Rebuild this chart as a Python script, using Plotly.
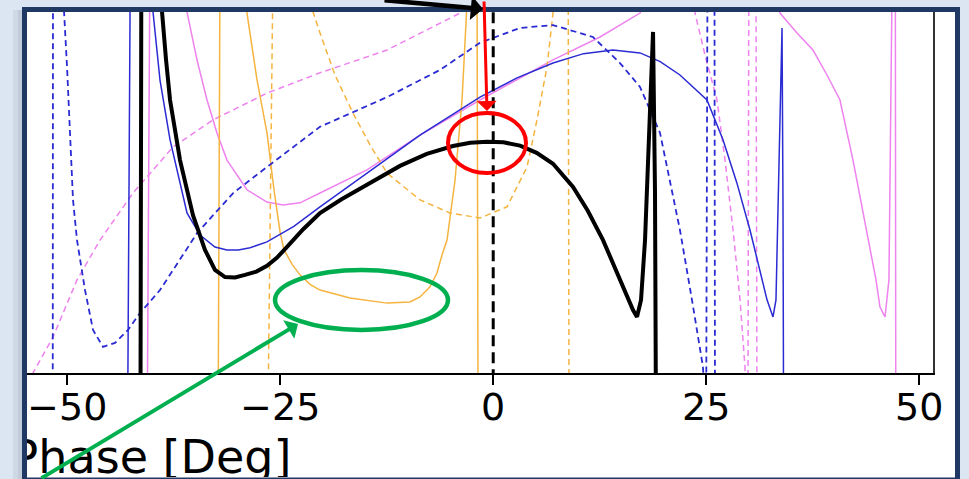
import plotly.graph_objects as go

W, H = 969, 479

# ---------------- data (x: phase in degrees, y: arbitrary units) ----------------
black_x = [-41.4, -41.3, -39.1, -38.87, -38.40, -37.93, -36.76, -35.24, -33.83, -32.66, -31.48,
           -30.3, -29.13, -27.8, -26.55, -25.4, -24.20, -22.3, -20.33, -17.8, -15.28, -10.94,
           -7.8, -4.72, -2.7, -0.73, 1.2, 3.15, 5.1, 7.02, 9.37, 11.1, 12.89, 14.88, 16.41,
           16.88, 17.35, 17.82, 18.29, 18.76, 18.99, 19.08, 19.10]
black_y = [-1, 11, 11, 9.97, 8.65, 7.54, 5.88, 4.36, 3.40, 2.85, 2.65,
           2.64, 2.71, 2.80, 2.96, 3.18, 3.48, 3.97, 4.42, 4.80, 5.14, 5.72,
           6.05, 6.27, 6.36, 6.39, 6.37, 6.28, 6.08, 5.78, 5.14, 4.48, 3.67, 2.57, 1.74,
           1.55, 2.02, 3.67, 6.44, 9.42, 5.0, 0, -1]

vline_x = [0, 0]
vline_y = [-0.2, 11]

blue_x = [-42.9, -42.6, -40.17, -39.93, -39.11, -37.93, -35.94, -34.41, -32.66, -31.25, -29.9,
          -28.54, -26.55, -23.4, -20.33, -14.81, -8.59, -1.55, 2.8, 7.02, 10.6, 14.06, 17.23,
          19.6, 21.92, 25.09, 26.97, 28.6, 30.14, 32.14, 32.84, 33.19, 33.54, 33.90, 34.01,
          34.07, 34.08]
blue_y = [-1, 11, 11, 9.97, 8.09, 6.44, 4.42, 3.81, 3.48, 3.40, 3.40,
          3.46, 3.62, 4.05, 4.59, 5.52, 6.57, 7.62, 8.15, 8.56, 8.82, 8.92, 8.84,
          8.60, 8.23, 7.54, 6.44, 5.25, 3.95, 2.02, 1.55, 2.02, 6.16, 9.53, 4.78,
          0, -1]

blue_dash_x = [-51.7, -51.67, -50.49, -50.37, -50.02, -49.67, -49.32, -48.85, -47.91, -46.97, -45.80,
               -44.39, -42.86, -41.45, -39.11, -34.74, -30.52, -26.55, -20.33, -12.46, -6.25, -1.55,
               3.15, 7.02, 11.71, 14.88, 17.23, 19.58, 21.92, 23.33, 24.62, 24.9, 25.0, 25.15,
               25.97, 26.03]
blue_dash_y = [-1, 11, 11, 9.97, 8.45, 6.71, 4.78, 3.67, 2.29, 1.19, 0.72,
               0.83, 1.19, 1.66, 2.29, 3.87, 4.97, 5.69, 6.80, 7.62, 8.37, 9.12,
               9.53, 9.61, 9.28, 8.56, 7.90, 6.63, 3.95, 2.02, 0.17, -1, -1, 11,
               11, -1]

violet_x = [-40.6, -40.3, -36.06, -35.94, -34.77, -33.59, -32.42, -31.25, -28.90, -26.55, -24.67,
            -22.68, -20.33, -14.81, -8.59, -1.55, 7.02, 12.54, 17.23, 19.0, 33.08, 33.66, 35.66,
            37.53, 39.18, 40.70, 42.23, 43.87, 44.93, 45.40, 45.99, 46.45, 46.83, 47.2, 47.25]
violet_y = [-1, 11, 11, 9.97, 8.65, 7.54, 6.63, 5.88, 5.06, 4.72, 4.64,
            4.70, 4.97, 5.61, 6.57, 7.54, 8.65, 9.28, 9.94, 11, 11, 9.94, 9.39,
            8.92, 8.23, 7.54, 5.88, 3.87, 2.57, 1.82, 1.55, 2.57, 11, 11, -1]

violet_dash_x = [-56.4, -54.03, -51.67, -48.85, -46.15, -42.28, -37.59, -32.89, -26.55, -20.33,
                 -12.46, -3.90, -2.5, 23.09, 23.69, 24.86, 26.27, 27.21, 28.15, 28.97, 29.55,
                 29.62, 29.9, 30.0, 30.84, 30.96]
violet_dash_y = [-1, 0, 0.99, 2.57, 3.67, 4.97, 6.24, 6.99, 7.73, 8.29,
                 8.92, 9.94, 11, 11, 9.94, 8.78, 7.54, 5.88, 3.95, 2.02, 0.17,
                 -1, -1, 11, 11, -1]

orange_x = [-32.28, -32.07, -29.01, -28.90, -27.72, -26.55, -25.73, -25.02, -24.55, -23.6, -22.68,
            -21.5, -20.33, -16.81, -12.46, -9.77, -8.59, -7.42, -6.60, -6.01, -5.42, -4.48,
            -3.66, -3.08, -2.9, -1.9, -1.78]
orange_y = [-1, 11, 11, 9.94, 8.09, 6.63, 5.06, 3.90, 3.40, 3.0, 2.71,
            2.45, 2.29, 2.07, 1.93, 1.96, 2.10, 2.38, 2.76, 3.26, 3.67, 5.33,
            7.54, 9.94, 11, 11, -1]

orange_dash_x = [-26.43, -25.85, -21.26, -21.15, -20.33, -18.57, -16.46, -14.46, -12.46, -8.59,
                 -5.07, -1.55, 1.62, 3.97, 5.14, 6.31, 7.02, 7.3, 8.8, 8.9]
orange_dash_y = [-1, 11, 11, 9.97, 9.39, 8.23, 7.18, 6.30, 5.52, 4.78,
                 4.42, 4.28, 4.59, 5.69, 6.99, 8.45, 9.94, 11, 11, -1]

tick_vals = [-50, -25, 0, 25, 50]
tick_text = ["\u221250", "\u221225", "0", "25", "50"]
x_label = "Phase [Deg]"

# ---------------- styling ----------------
NAVY = "#1f3864"
BG = "#dce6f2"
BLUE = "#2b2bd3"
VIOLET = "#ee82ee"
ORANGE = "#f5b43f"


def px(x):
    return x / W


def py(y):
    return 1 - y / H


fig = go.Figure()


def add(x, y, color, width, dash="solid"):
    fig.add_trace(go.Scatter(x=x, y=y, mode="lines",
                             line=dict(color=color, width=width, dash=dash),
                             hoverinfo="skip", showlegend=False))


add(violet_dash_x, violet_dash_y, VIOLET, 1.5, "6px,4px")
add(violet_x, violet_y, VIOLET, 1.5)
add(orange_dash_x, orange_dash_y, ORANGE, 1.5, "6px,4px")
add(orange_x, orange_y, ORANGE, 1.5)
add(blue_dash_x, blue_dash_y, BLUE, 1.8, "6px,4px")
add(blue_x, blue_y, BLUE, 1.5)
add(black_x, black_y, "black", 4)
add(vline_x, vline_y, "black", 3, "11px,6px")

# axis label as clipped text on an overlay subplot (pixel coordinates)
fig.add_trace(go.Scatter(x=[151], y=[461], mode="text", text=[x_label],
                         textfont=dict(family="DejaVu Sans", size=46, color="black"),
                         textposition="middle center", xaxis="x2", yaxis="y2",
                         hoverinfo="skip", showlegend=False, cliponaxis=True))

x_dom = [px(27), px(933)]
y_dom = [py(373), py(12)]

fig.update_layout(
    width=W, height=H, margin=dict(l=0, r=0, t=0, b=0, pad=0), autosize=False,
    paper_bgcolor=BG, plot_bgcolor="rgba(0,0,0,0)",
    xaxis=dict(domain=x_dom, range=[-54.72, 51.62], showgrid=False, zeroline=False,
               automargin=False,
               showline=True, linecolor="black", linewidth=1.5,
               ticks="outside", ticklen=10, tickwidth=1.5, tickcolor="black",
               tickvals=tick_vals, ticktext=tick_text, ticklabelstandoff=-10,
               tickfont=dict(family="DejaVu Sans", size=38, color="black")),
    yaxis=dict(domain=y_dom, range=[0, 9.97], showgrid=False, zeroline=False,
               automargin=False,
               side="right", showline=True, linecolor="#333333", linewidth=1.5,
               ticks="", showticklabels=False),
    xaxis2=dict(domain=[px(27), px(955)], range=[27, 955], visible=False, anchor="y2",
                automargin=False),
    yaxis2=dict(domain=[py(477), py(12)], range=[477, 12], visible=False, anchor="x2",
                automargin=False),
)

shapes = [
    # white page inside frame
    dict(type="rect", xref="paper", yref="paper", x0=px(24.5), x1=px(957.5), y0=py(481), y1=py(9.5),
         fillcolor="white", line=dict(width=0), layer="below"),
    # soft shadow left of the frame
    dict(type="rect", xref="paper", yref="paper", x0=px(13), x1=px(22), y0=py(481), y1=py(10),
         fillcolor="rgba(120,130,150,0.13)", line=dict(width=0), layer="below"),
    dict(type="rect", xref="paper", yref="paper", x0=px(18), x1=px(22), y0=py(481), y1=py(10),
         fillcolor="rgba(120,130,150,0.15)", line=dict(width=0), layer="below"),
    # frame border
    dict(type="rect", xref="paper", yref="paper", x0=px(24.5), x1=px(957.5), y0=py(480), y1=py(9.5),
         fillcolor="rgba(0,0,0,0)", line=dict(color=NAVY, width=5), layer="above"),
    # red ellipse
    dict(type="circle", xref="paper", yref="paper", x0=px(448), x1=px(526), y0=py(173), y1=py(113),
         line=dict(color="#ff0000", width=4), layer="above"),
    # green ellipse
    dict(type="circle", xref="paper", yref="paper", x0=px(275), x1=px(448), y0=py(330), y1=py(270),
         line=dict(color="#00b050", width=4.5), layer="above"),
]
fig.update_layout(shapes=shapes)

annotations = [
    dict(xref="paper", yref="paper", x=px(487), y=py(111), ax=-3, ay=-118, text="",
         showarrow=True, arrowhead=1, arrowsize=1.1, arrowwidth=3, arrowcolor="#ff0000", standoff=0),
    dict(xref="paper", yref="paper", x=px(483), y=py(9), ax=-100, ay=-29, text="",
         showarrow=True, arrowhead=1, arrowsize=0.9, arrowwidth=4.5, arrowcolor="black", standoff=0),
    dict(xref="paper", yref="paper", x=px(298), y=py(324), ax=-258, ay=168, text="",
         showarrow=True, arrowhead=1, arrowsize=0.9, arrowwidth=4, arrowcolor="#00b050", standoff=0),
]
fig.update_layout(annotations=annotations)

fig.write_html("out.html")
